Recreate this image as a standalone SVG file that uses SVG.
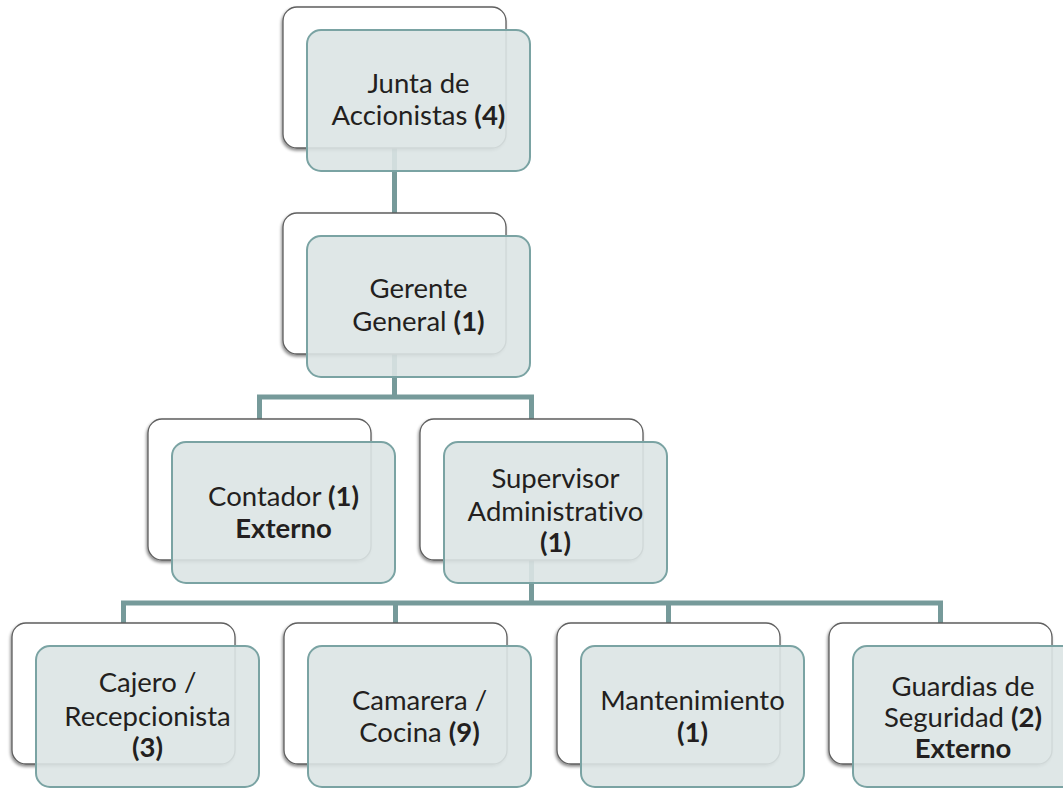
<svg xmlns="http://www.w3.org/2000/svg" width="1063" height="788" viewBox="0 0 1063 788">
<defs>
<filter id="sh" x="-10%" y="-10%" width="120%" height="125%">
<feDropShadow dx="-1" dy="2" stdDeviation="1.5" flood-color="#000" flood-opacity="0.45"/>
</filter>
<style>
.back{fill:#ffffff;stroke:#5e5e5e;stroke-width:1.3;filter:url(#sh)}
.front{fill:#dce4e4;fill-opacity:0.9;stroke:#7aa3a3;stroke-width:2}
.t{font-family:Lato,"Open Sans",sans-serif;font-size:27.5px;fill:#231f20;text-anchor:middle;font-variant-ligatures:none}
.b{font-weight:bold}
.c{fill:none;stroke:#769a9a;stroke-width:5}
</style>
</defs>
<rect width="1063" height="788" fill="#ffffff"/>
<g id="connectors">
<path class="c" d="M394.5,148V213"/>
<path class="c" d="M394.5,354V397M259.5,419V397H531.5V419"/>
<path class="c" d="M531.5,560V603M123.5,624V603H940.5V624M395.5,603V624M668.5,603V624"/>
</g>
<g id="junta">
<rect class="back" x="283" y="7" width="223" height="141" rx="14"/>
<rect class="front" x="307" y="30" width="223" height="141" rx="14"/>
<text class="t" x="418.5" y="93">Junta de</text>
<text class="t" x="418.5" y="125">Accionistas <tspan class="b">(4)</tspan></text>
</g>
<g id="gerente">
<rect class="back" x="283" y="213" width="223" height="141" rx="14"/>
<rect class="front" x="307" y="236" width="223" height="141" rx="14"/>
<text class="t" x="418.5" y="298">Gerente</text>
<text class="t" x="418.5" y="331">General <tspan class="b">(1)</tspan></text>
</g>
<g id="contador">
<rect class="back" x="148" y="419" width="223" height="141" rx="14"/>
<rect class="front" x="172" y="442" width="223" height="141" rx="14"/>
<text class="t" x="283.5" y="506">Contador <tspan class="b">(1)</tspan></text>
<text class="t b" x="283.5" y="538">Externo</text>
</g>
<g id="supervisor">
<rect class="back" x="420" y="419" width="223" height="141" rx="14"/>
<rect class="front" x="444" y="442" width="223" height="141" rx="14"/>
<text class="t" x="555.5" y="488">Supervisor</text>
<text class="t" x="555.5" y="521">Administrativo</text>
<text class="t b" x="555.5" y="552">(1)</text>
</g>
<g id="cajero">
<rect class="back" x="12" y="623" width="223" height="141" rx="14"/>
<rect class="front" x="36" y="646" width="223" height="141" rx="14"/>
<text class="t" x="147.5" y="692">Cajero /</text>
<text class="t" x="147.5" y="726">Recepcionista</text>
<text class="t b" x="147.5" y="757">(3)</text>
</g>
<g id="camarera">
<rect class="back" x="284" y="623" width="223" height="141" rx="14"/>
<rect class="front" x="308" y="646" width="223" height="141" rx="14"/>
<text class="t" x="419.5" y="710">Camarera /</text>
<text class="t" x="419.5" y="742">Cocina <tspan class="b">(9)</tspan></text>
</g>
<g id="mantenimiento">
<rect class="back" x="557" y="623" width="223" height="141" rx="14"/>
<rect class="front" x="581" y="646" width="223" height="141" rx="14"/>
<text class="t" x="692.5" y="710">Mantenimiento</text>
<text class="t b" x="692.5" y="742">(1)</text>
</g>
<g id="guardias">
<rect class="back" x="829" y="623" width="223" height="141" rx="14"/>
<rect class="front" x="853" y="646" width="223" height="141" rx="14"/>
<text class="t" x="963" y="696">Guardias de</text>
<text class="t" x="963" y="727">Seguridad <tspan class="b">(2)</tspan></text>
<text class="t b" x="963" y="758">Externo</text>
</g>
</svg>
